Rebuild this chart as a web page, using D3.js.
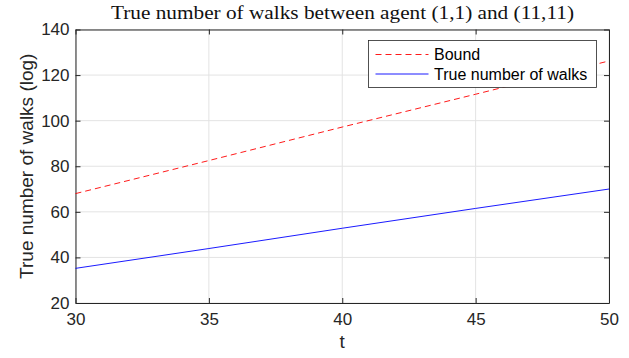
<!DOCTYPE html>
<html>
<head>
<meta charset="utf-8">
<script src="https://cdn.jsdelivr.net/npm/d3@7"></script>
<style>
  body { margin: 0; background: #fff; }
  svg { display: block; }
</style>
</head>
<body>
<div></div>
<script>
// datos del grafico
var tValues = [30, 35, 40, 45, 50]
var boundValues = [68, 82.5, 97.2, 111.6, 126.2]
var trueValues = [35.2, 43.9, 52.8, 61.5, 70]
var xTicks = [30, 35, 40, 45, 50]
var yTicks = [20, 40, 60, 80, 100, 120, 140]
var seriesNames = ['Bound', 'True number of walks']

var w = 629
var h = 358
var margin = {left: 75.5, right: 20, top: 29.5, bottom: 55}

var svg = d3.select('div')
    .append('svg')
    .attr('width', w)
    .attr('height', h)

var x = d3.scaleLinear().domain([30, 50]).range([margin.left, w - margin.right])
var y = d3.scaleLinear().domain([20, 140]).range([h - margin.bottom, margin.top])

var axisColor = '#262626'
var font = 'Liberation Sans, Arial, sans-serif'

// rejilla
svg.append('g').selectAll('line')
    .data(xTicks)
    .enter().append('line')
    .attr('x1', d => x(d)).attr('x2', d => x(d))
    .attr('y1', y(20)).attr('y2', y(140))
    .attr('stroke', '#e3e3e3').attr('stroke-width', 1)

svg.append('g').selectAll('line')
    .data(yTicks)
    .enter().append('line')
    .attr('x1', x(30)).attr('x2', x(50))
    .attr('y1', d => y(d)).attr('y2', d => y(d))
    .attr('stroke', '#e3e3e3').attr('stroke-width', 1)

// ejes (estilo matlab, ticks hacia dentro y caja)
var tickLen = 5
var axB = svg.append('g').attr('transform', `translate(0,${y(20)})`)
    .call(d3.axisBottom(x).tickValues(xTicks).tickSizeInner(-tickLen).tickSizeOuter(0).tickPadding(8))
var axT = svg.append('g').attr('transform', `translate(0,${y(140)})`)
    .call(d3.axisTop(x).tickValues(xTicks).tickSizeInner(-tickLen).tickSizeOuter(0).tickFormat(''))
var axL = svg.append('g').attr('transform', `translate(${x(30)},0)`)
    .call(d3.axisLeft(y).tickValues(yTicks).tickSizeInner(-tickLen).tickSizeOuter(0).tickPadding(6))
var axR = svg.append('g').attr('transform', `translate(${x(50)},0)`)
    .call(d3.axisRight(y).tickValues(yTicks).tickSizeInner(-tickLen).tickSizeOuter(0).tickFormat(''))

;[axB, axT, axL, axR].forEach(function(a) {
    a.selectAll('path').attr('stroke', axisColor).attr('stroke-width', 1)
    a.selectAll('line').attr('stroke', axisColor).attr('stroke-width', 1)
    a.selectAll('text').attr('fill', axisColor).style('font-family', font).style('font-size', '17px')
})
axB.selectAll('text').attr('dy', '0.85em')

// lineas
var line = d3.line().x((d, i) => x(tValues[i])).y(d => y(d))

svg.append('path')
    .datum(boundValues)
    .attr('d', line)
    .attr('fill', 'none')
    .attr('stroke', '#ff0000')
    .attr('stroke-width', 0.9)
    .attr('stroke-dasharray', '6,4')

svg.append('path')
    .datum(trueValues)
    .attr('d', line)
    .attr('fill', 'none')
    .attr('stroke', '#0000ff')
    .attr('stroke-width', 0.9)

// titulo (fuente tipo LaTeX)
svg.append('text')
    .attr('x', 342.5)
    .attr('y', 19)
    .attr('text-anchor', 'middle')
    .attr('textLength', 463)
    .attr('lengthAdjust', 'spacingAndGlyphs')
    .style('font-family', 'Liberation Serif, serif')
    .style('font-size', '18.5px')
    .attr('fill', '#111')
    .text('True number of walks between agent (1,1) and (11,11)')

// etiquetas de ejes
svg.append('text')
    .attr('x', (x(30) + x(50)) / 2)
    .attr('y', 348)
    .attr('text-anchor', 'middle')
    .style('font-family', font)
    .style('font-size', '19px')
    .attr('fill', axisColor)
    .text('t')

svg.append('text')
    .attr('transform', `translate(33,${(y(20) + y(140)) / 2}) rotate(-90)`)
    .attr('text-anchor', 'middle')
    .style('font-family', font)
    .style('font-size', '19px')
    .attr('fill', axisColor)
    .text('True number of walks (log)')

// leyenda
var legend = svg.append('g').attr('transform', 'translate(368.5,40.5)')
legend.append('rect')
    .attr('width', 228).attr('height', 47)
    .attr('fill', '#fff').attr('stroke', axisColor).attr('stroke-width', 0.8)

var legendStyles = [
    {color: '#ff0000', dash: '6,4'},
    {color: '#0000ff', dash: null}
]
seriesNames.forEach(function(name, i) {
    var row = legend.append('g').attr('transform', `translate(0,${14 + i * 19.5})`)
    row.append('line')
        .attr('x1', 7).attr('x2', 60)
        .attr('stroke', legendStyles[i].color)
        .attr('stroke-width', 0.9)
        .attr('stroke-dasharray', legendStyles[i].dash)
    row.append('text')
        .attr('x', 65.5).attr('dy', '0.35em')
        .style('font-family', font)
        .style('font-size', '16px')
        .attr('fill', '#000')
        .text(name)
})
</script>
</body>
</html>
